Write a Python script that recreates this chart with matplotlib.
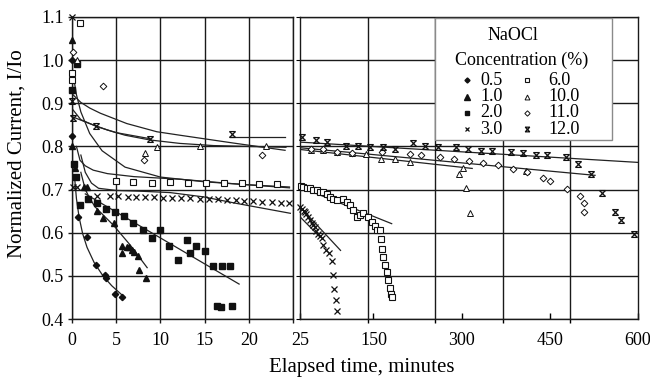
import numpy as np
import matplotlib
matplotlib.use('Agg')
import matplotlib.pyplot as plt
from matplotlib.path import Path
from matplotlib.patches import Rectangle

plt.rcParams['font.family'] = ['Liberation Serif', 'DejaVu Serif']

# ── data (minutes, I/Io) ──
t_05 = [0.0, 0.05, 0.7, 1.7, 2.7, 3.7, 3.9, 4.9, 5.7]
v_05 = [1.00, 0.824, 0.637, 0.589, 0.525, 0.503, 0.495, 0.459, 0.451]

t_10 = [0.0, 0.05, 0.3, 1.3, 1.7, 2.8, 3.5, 4.8, 5.6, 5.7, 6.2, 6.5, 6.8, 7.0, 7.5, 7.55, 8.4]
v_10 = [1.047, 0.80, 0.75, 0.706, 0.706, 0.651, 0.634, 0.623, 0.569, 0.554, 0.566, 0.566,
        0.560, 0.555, 0.546, 0.513, 0.494]

t_20 = [0.05, 0.2, 0.5, 0.6, 0.9, 1.85, 2.8, 3.85, 4.86, 5.9, 6.9, 8.0, 9.0, 10.0, 11.0, 12.0,
        12.97, 13.35, 14.0, 15.0, 16.0, 16.35, 16.8, 17.0, 17.9, 18.1]
v_20 = [0.93, 0.76, 0.73, 0.99, 0.664, 0.679, 0.669, 0.656, 0.647, 0.638, 0.623, 0.607, 0.588,
        0.606, 0.569, 0.536, 0.583, 0.553, 0.569, 0.557, 0.524, 0.429, 0.428, 0.523, 0.523, 0.431]

t_30 = [0.0, 0.1, 0.6, 2.8, 4.3, 5.2, 6.3, 7.2, 8.3, 9.3, 10.3, 11.3, 12.3, 13.4, 14.5, 15.5,
        16.5, 17.5, 18.5, 19.5, 20.5, 21.5, 22.6, 23.6, 24.6,
        25.5, 28, 31, 33.5, 36, 39, 42, 45, 48, 50.5, 53, 56, 59, 62, 64.6, 69.2, 74.8, 78.9,
        81.6, 83.3, 85.7, 88.4]
v_30 = [1.10, 0.705, 0.705, 0.685, 0.684, 0.684, 0.683, 0.683, 0.682, 0.682, 0.681, 0.681,
        0.680, 0.680, 0.679, 0.678, 0.677, 0.676, 0.675, 0.674, 0.673, 0.672, 0.671, 0.670, 0.668,
        0.660, 0.655, 0.651, 0.648, 0.643, 0.636, 0.629, 0.623, 0.617, 0.613, 0.605, 0.598,
        0.592, 0.587, 0.571, 0.560, 0.553, 0.535, 0.503, 0.470, 0.443, 0.419]

t_60 = [0.0, 0.05, 0.9, 5.0, 6.9, 9.0, 11.1, 13.1, 15.1, 17.2, 19.2, 21.2, 23.2,
        26.2, 30.6, 36.3, 42, 47.6, 53.4, 59, 64.7, 70.4, 76, 81.6, 87.4, 98.6, 104.4, 110,
        115.6, 121.4, 127, 132.7, 141.2, 146.9, 152.6, 156.5, 161, 162.2, 164, 166.7, 169.6,
        172.4, 175.2, 178, 179.8, 181]
v_60 = [0.97, 0.954, 1.085, 0.720, 0.718, 0.716, 0.717, 0.716, 0.716, 0.715, 0.715, 0.714, 0.714,
        0.709, 0.706, 0.703, 0.703, 0.700, 0.699, 0.695, 0.695, 0.689, 0.683, 0.679, 0.675,
        0.679, 0.672, 0.664, 0.652, 0.637, 0.641, 0.645, 0.637, 0.625, 0.615, 0.606, 0.606,
        0.585, 0.563, 0.544, 0.525, 0.509, 0.490, 0.471, 0.459, 0.450]

t_100 = [0.6, 8.2, 9.6, 14.5, 21.9, 43, 64.7, 87.4, 113, 136.7, 162.8, 186.6, 213, 296, 301.7,
         307, 314, 409]
v_100 = [1.0, 0.784, 0.798, 0.80, 0.80, 0.791, 0.791, 0.787, 0.784, 0.782, 0.770, 0.770, 0.763,
         0.736, 0.749, 0.704, 0.646, 0.742]

t_110 = [0.1, 3.5, 8.1, 21.5, 43, 64.7, 87.4, 113, 164, 213, 230.8, 263, 287.5, 312.4, 336.7,
         362, 387.8, 410.5, 437.7, 450, 478.6, 502, 508, 508]
v_110 = [1.02, 0.94, 0.768, 0.78, 0.795, 0.795, 0.787, 0.785, 0.787, 0.782, 0.78, 0.776, 0.77,
         0.767, 0.762, 0.757, 0.747, 0.741, 0.726, 0.72, 0.701, 0.685, 0.668, 0.647]

t_120 = [0.05, 0.1, 2.7, 8.8, 18.1, 28.9, 51.7, 71.4, 103.2, 124.1, 144, 166.7, 186.6, 217.7,
         237.6, 259.2, 290.3, 311.2, 332.3, 351, 383.3, 404.8, 425.9, 445.6, 477.4, 498.3,
         519.9, 539.1, 560.7, 570.9, 593]
v_120 = [0.905, 0.865, 0.847, 0.817, 0.828, 0.821, 0.816, 0.811, 0.801, 0.801, 0.799, 0.799,
         0.795, 0.807, 0.801, 0.799, 0.799, 0.795, 0.79, 0.79, 0.787, 0.785, 0.78, 0.78, 0.776,
         0.76, 0.736, 0.692, 0.647, 0.629, 0.598]

# trend lines, knots
trend_05 = ([0.3, 0.5, 0.8, 1.2, 1.7, 2.5, 3.5, 4.5, 5.8],
            [0.726, 0.679, 0.636, 0.598, 0.566, 0.531, 0.500, 0.477, 0.453])
trend_10 = ([1.0, 1.5, 2.0, 2.6, 4.7, 6.6, 8.5], [0.74, 0.70, 0.68, 0.66, 0.617, 0.571, 0.519])
trend_20 = ([1.5, 18.9], [0.690, 0.481])
trend_30 = ([1.0, 1.5, 2.2, 3.0, 5.0, 8.0, 11.1, 14.9, 18.6, 24.7],
            [0.78, 0.74, 0.715, 0.703, 0.698, 0.696, 0.693, 0.683, 0.668, 0.645])
trend_60a = ([0.1, 0.5, 1.0, 2.0, 3.4, 6.0, 10.0, 15.0, 20.0, 24.6],
             [0.97, 0.92, 0.88, 0.83, 0.79, 0.752, 0.729, 0.718, 0.711, 0.706])
trend_60b = ([0.5, 0.9, 1.5, 2.4, 4.0, 7.0, 12.2, 18.0, 24.6],
             [0.80, 0.768, 0.755, 0.745, 0.737, 0.730, 0.724, 0.714, 0.704])
trend_110 = ([0.15, 1.0, 2.0, 3.2, 6.2, 9.6, 12.2, 18.2, 24.1],
             [0.919, 0.902, 0.889, 0.877, 0.853, 0.834, 0.826, 0.808, 0.791])
trend_120a = ([0.1, 1.0, 2.8, 5.0, 8.8], [0.885, 0.862, 0.846, 0.832, 0.818])
trend_120b = ([17.9, 24.1], [0.821, 0.821])
trend_100 = ([0.0, 2.0, 4.0, 6.0, 8.8, 12.2, 16.0, 20.0, 24.2],
             [0.869, 0.853, 0.838, 0.826, 0.815, 0.807, 0.802, 0.800, 0.798])
trend_120r = ([25, 600], [0.810, 0.763])
trend_110r = ([25, 527], [0.797, 0.733])
trend_100r = ([25, 318], [0.793, 0.749])
trend_60r = ([25, 181], [0.706, 0.621])
trend_30ra = ([25, 94], [0.660, 0.559])
trend_30rb = ([25, 59], [0.637, 0.590])

trends = [trend_05, trend_10, trend_20, trend_30, trend_60a, trend_60b, trend_110, trend_120a,
          trend_120b, trend_100, trend_120r, trend_110r, trend_100r, trend_60r, trend_30ra,
          trend_30rb]

# ── marker styles ──
bar_x = Path([(-1, 1), (1, 1), (-1, -1), (1, -1), (-1, 1), (1, -1), (1, 1), (-1, -1)],
             [Path.MOVETO, Path.LINETO] * 4)
ink = '#111111'
series = [
    ('0.5', t_05, v_05, dict(marker='D', ms=3.2, mfc=ink, mec=ink)),
    ('1.0', t_10, v_10, dict(marker='^', ms=4.8, mfc=ink, mec=ink)),
    ('2.0', t_20, v_20, dict(marker='s', ms=4.2, mfc=ink, mec=ink)),
    ('3.0', t_30, v_30, dict(marker='x', ms=4.2, mec=ink, mew=0.9)),
    ('6.0', t_60, v_60, dict(marker='s', ms=4.2, mfc='white', mec=ink, mew=0.8)),
    ('10.0', t_100, v_100, dict(marker='^', ms=4.4, mfc='white', mec=ink, mew=0.7)),
    ('11.0', t_110, v_110, dict(marker='D', ms=3.4, mfc='white', mec=ink, mew=0.7)),
    ('12.0', t_120, v_120, dict(marker=bar_x, ms=4.2, mfc='none', mec=ink, mew=0.9)),
]

fig = plt.figure(figsize=(6.5, 3.82), dpi=100)
axL = fig.add_axes([0.1108, 0.1649, 0.340, 0.7906])
axR = fig.add_axes([0.4615, 0.1649, 0.520, 0.7906])

for ax, lo, hi in [(axL, 0, 25), (axR, 25, 600)]:
    for tk, vk in trends:
        tk = np.asarray(tk)
        if tk.min() >= lo - 1e-9 and tk.max() <= hi + 1e-9:
            ax.plot(tk, vk, color='#222222', lw=0.9, zorder=3)
    for name, t, v, st in series:
        t = np.asarray(t)
        v = np.asarray(v)
        m = (t >= lo) & (t <= hi)
        ax.plot(t[m], v[m], ls='none', zorder=4, clip_on=False, **st)
    ax.set_xlim(lo, hi)
    ax.set_ylim(0.4, 1.1)
    ax.set_yticks(np.round(np.arange(0.4, 1.11, 0.1), 1))
    ax.grid(which='major', axis='y', color='#1a1a1a', lw=1.0)
    for sp in ax.spines.values():
        sp.set_color('#1a1a1a')
        sp.set_linewidth(1.0)
    ax.set_axisbelow(True)

# left panel axes (its "25" is shared with the right panel's first label)
axL.set_xticks([0, 5, 10, 15, 20, 25])
axL.set_xticklabels(['0', '5', '10', '15', '20', ''])
axL.set_yticklabels(['%.1f' % y for y in axL.get_yticks()])
axL.grid(which='major', axis='x', color='#1a1a1a', lw=1.0)
axL.tick_params(axis='both', direction='out', length=3, width=1.0, labelsize=13, color='#1a1a1a')
axL.tick_params(axis='x', pad=6)
axL.tick_params(axis='y', pad=3)

# right panel axes
axR.set_xticks([25, 150, 300, 450, 600])
axR.set_xticks(np.linspace(25, 600, 6), minor=True)
axR.grid(which='minor', axis='x', color='#1a1a1a', lw=1.0)
axR.tick_params(axis='x', which='major', direction='in', length=4, width=1.0, labelsize=13, pad=9)
axR.tick_params(axis='x', which='minor', direction='out', length=3, width=1.0)
axR.tick_params(axis='y', direction='out', length=3, labelleft=False)

# legend box
lg_x0, lg_y0, lg_x1, lg_y1 = 0.399, 0.593, 0.923, 0.997
axR.add_patch(Rectangle((lg_x0, lg_y0), lg_x1 - lg_x0, lg_y1 - lg_y0, transform=axR.transAxes,
                        facecolor='white', edgecolor='#8a8a8a', lw=1.0, zorder=6, clip_on=False))
axR.text(0.630, 0.940, 'NaOCl', transform=axR.transAxes, ha='center', va='center',
         fontsize=13, zorder=7)
axR.text(0.656, 0.858, 'Concentration (%)', transform=axR.transAxes, ha='center', va='center',
         fontsize=13, zorder=7)
row_y = [0.791, 0.736, 0.683, 0.628]
for i, (name, t, v, st) in enumerate(series):
    col, row = divmod(i, 4)
    mx = 0.494 if col == 0 else 0.672
    lx = 0.533 if col == 0 else 0.734
    st2 = dict(st)
    st2['ms'] = st['ms'] * 0.8
    axR.plot([mx], [row_y[row]], transform=axR.transAxes, ls='none', zorder=7,
             clip_on=False, **st2)
    axR.text(lx, row_y[row], name, transform=axR.transAxes, ha='left', va='center',
             fontsize=13, zorder=7)

fig.text(0.557, 0.037, 'Elapsed time, minutes', ha='center', va='center', fontsize=15)
fig.text(0.026, 0.597, 'Normalized Current, I/Io', ha='center', va='center', rotation=90,
         fontsize=15)

fig.savefig('out.png', dpi=100, facecolor='white')
